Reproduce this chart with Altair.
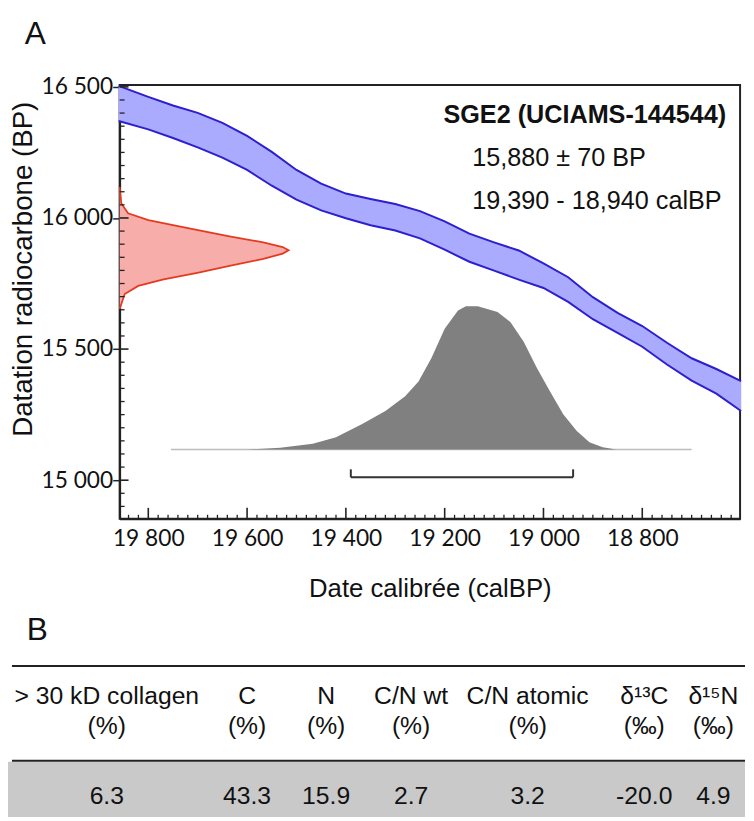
import altair as alt
import pandas as pd

# ---------------- data ----------------
cal_bp = [19860, 19800, 19750, 19700, 19650, 19600, 19550, 19500, 19450, 19400, 19350, 19300, 19250,
          19200, 19150, 19100, 19050, 19000, 18950, 18900, 18850, 18800, 18750, 18700, 18650, 18600]
c14_upper = [16504, 16462, 16429, 16401, 16363, 16313, 16252, 16183, 16131, 16093, 16072, 16053, 16026,
             15987, 15940, 15907, 15876, 15827, 15774, 15698, 15638, 15588, 15524, 15465, 15424, 15378]
c14_lower = [16370, 16338, 16305, 16269, 16230, 16183, 16123, 16070, 16029, 15999, 15972, 15952, 15922,
             15879, 15833, 15799, 15765, 15733, 15680, 15614, 15562, 15509, 15441, 15380, 15330, 15264]

red_c14 = [16118, 16055, 16018, 15992, 15967, 15930, 15907, 15889, 15877, 15864, 15844, 15817, 15791,
           15766, 15741, 15710, 15653]
red_prob = [0, 0.01, 0.05, 0.17, 0.36, 0.65, 0.85, 0.965, 1.0, 0.965, 0.85, 0.65, 0.46, 0.26, 0.11, 0.03, 0]

gray_cal = [19754, 19600, 19533, 19467, 19420, 19367, 19320, 19280, 19253, 19227, 19200, 19173, 19157,
            19133, 19093, 19067, 19040, 19013, 18987, 18960, 18933, 18907, 18880, 18853, 18700]
gray_prob = [0, 0, 0.012, 0.039, 0.084, 0.175, 0.265, 0.367, 0.469, 0.628, 0.832, 0.957, 0.986,
             0.986, 0.946, 0.878, 0.741, 0.56, 0.401, 0.243, 0.129, 0.05, 0.016, 0, 0]

range_cal = [19390, 18940]

x_major = [19800, 19600, 19400, 19200, 19000, 18800]
x_minor = [v for v in range(18620, 19860, 20) if v % 200 != 0]
y_major = [15000, 15500, 16000, 16500]
y_minor = [v for v in range(14900, 16501, 50) if v % 500 != 0]

title_txt = "SGE2 (UCIAMS-144544)"
date_txt = "15,880 ± 70 BP"
cal_txt = "19,390 - 18,940 calBP"

tbl_head1 = ["> 30 kD collagen", "C", "N", "C/N wt", "C/N atomic", "δ¹³C", "δ¹⁵N"]
tbl_head2 = ["(%)", "(%)", "(%)", "(%)", "(%)", "(‰)", "(‰)"]
tbl_vals = ["6.3", "43.3", "15.9", "2.7", "3.2", "-20.0", "4.9"]

# ---------------- layout ----------------
W, H = 628, 439
X_MIN, X_MAX = 18602, 19858
Y_MIN, Y_MAX = 14853, 16507
RED_SPAN = 342
GRAY_BASE = 15117
GRAY_SPAN = 554
col_x = [-13, 129, 209, 295, 413, 531, 601]
row_y = [627, 657, 728]

X_TITLE = "Date calibrée (calBP)"
Y_TITLE = "Datation radiocarbone (BP)"
x_scale = alt.Scale(domain=[X_MIN, X_MAX], reverse=True, nice=False, zero=False)
y_scale = alt.Scale(domain=[Y_MIN, Y_MAX], nice=False, zero=False)
label_expr = "replace(format(datum.value, ',d'), ',', ' ')"
x_axis = alt.Axis(values=x_major, labelExpr=label_expr, ticks=False, tickSize=0, labelFlush=False,
                  labelPadding=9, grid=False, titleY=79, titleBaseline="alphabetic", titleFontSize=26)
y_axis = alt.Axis(values=y_major, labelExpr=label_expr, tickSize=7, labelPadding=0, labelFlush=False,
                  grid=False, titleX=-97, titleY=186, titleAngle=270, titleFontSize=28,
                  titleAlign="center", titleBaseline="middle")


def X(field, **kw):
    return alt.X(field, scale=x_scale, axis=x_axis, title=X_TITLE, **kw)


def Y(field, **kw):
    return alt.Y(field, scale=y_scale, axis=y_axis, title=Y_TITLE, **kw)


band_df = pd.DataFrame({"cal": cal_bp, "up": c14_upper, "lo": c14_lower})
red_df = pd.DataFrame({"c14": red_c14, "p": red_prob, "i": list(range(len(red_c14)))})
gray_df = pd.DataFrame({"cal": gray_cal, "p": gray_prob})
gray_base_df = pd.DataFrame({"a": [gray_cal[0]], "b": [gray_cal[-1]], "z": [GRAY_BASE]})
range_df = pd.DataFrame({"a": [range_cal[0]], "b": [range_cal[1]]})
range_ends = pd.DataFrame({"v": range_cal})

BLUE_LINE = "#2b1fd0"

band = alt.Chart(band_df).mark_area(color="#aaaaff", opacity=1).encode(
    x=X("cal:Q"), y=Y("up:Q"), y2="lo:Q")
up_line = alt.Chart(band_df).mark_line(color=BLUE_LINE, strokeWidth=2).encode(x=X("cal:Q"), y=Y("up:Q"))
lo_line = alt.Chart(band_df).mark_line(color=BLUE_LINE, strokeWidth=2).encode(x=X("cal:Q"), y=Y("lo:Q"))

red_area = alt.Chart(red_df).transform_calculate(
    xc=f"{X_MAX} - datum.p * {RED_SPAN}", x0=f"{X_MAX}"
).mark_area(orient="horizontal", color="#f7aeaa").encode(
    x=X("xc:Q", stack=None), x2="x0:Q", y=Y("c14:Q"))
red_line = alt.Chart(red_df).transform_calculate(
    xc=f"{X_MAX} - datum.p * {RED_SPAN}"
).mark_line(color="#e63a20", strokeWidth=1.8).encode(
    x=X("xc:Q"), y=Y("c14:Q"), order="i:Q")

gray_base = alt.Chart(gray_base_df).mark_rule(color="#bdbdbd", strokeWidth=1.6).encode(
    x=X("a:Q"), x2="b:Q", y=Y("z:Q"))
gray_area = alt.Chart(gray_df).transform_calculate(
    yc=f"{GRAY_BASE} + datum.p * {GRAY_SPAN}", y0=f"{GRAY_BASE}"
).mark_area(color="#808080").encode(
    x=X("cal:Q"), y=Y("yc:Q", stack=None), y2="y0:Q")

ymin_t = alt.Chart(pd.DataFrame({"v": y_minor})).mark_rule(color="#222", strokeWidth=1.3).encode(
    y=Y("v:Q"), x=alt.value(0), x2=alt.value(5))
ymaj_t = alt.Chart(pd.DataFrame({"v": y_major})).mark_rule(color="#222", strokeWidth=1.6).encode(
    y=Y("v:Q"), x=alt.value(0), x2=alt.value(9))
xmin_t = alt.Chart(pd.DataFrame({"v": x_minor})).mark_rule(color="#222", strokeWidth=1.3).encode(
    x=X("v:Q"), y=alt.value(H), y2=alt.value(H - 4))
xmaj_t = alt.Chart(pd.DataFrame({"v": x_major})).mark_rule(color="#222", strokeWidth=1.6).encode(
    x=X("v:Q"), y=alt.value(H), y2=alt.value(H - 11))

bracket = alt.Chart(range_df).mark_rule(color="#333", strokeWidth=2).encode(
    x=X("a:Q"), x2="b:Q", y=alt.value(397))
bracket_ends = alt.Chart(range_ends).mark_rule(color="#333", strokeWidth=2).encode(
    x=X("v:Q"), y=alt.value(389), y2=alt.value(397))


def txt(s, x, y, size, weight="normal", align="left", font="Liberation Sans"):
    return alt.Chart(pd.DataFrame({"t": [s]})).mark_text(
        font=font, fontSize=size, fontWeight=weight, align=align, baseline="alphabetic",
        color="#111").encode(x=alt.value(x), y=alt.value(y), text="t:N")


ann = [
    txt(title_txt, 614, 38, 25.5, weight="bold", align="right"),
    txt(date_txt, 357, 82, 25.5),
    txt(cal_txt, 357, 125, 25.5),
    txt("A", -96, -42, 32),
    txt("B", -94, 562, 32),
]

dummy = pd.DataFrame({"k": [0]})
top_anchor = alt.Chart(dummy).mark_rule(color="white", strokeWidth=1).encode(
    x=alt.value(0), x2=alt.value(2), y=alt.value(-72))
tbl_band = alt.Chart(dummy).mark_rect(color="#c9c9c9").encode(
    x=alt.value(-113), x2=alt.value(W + 5), y=alt.value(685), y2=alt.value(741))
tbl_line1 = alt.Chart(dummy).mark_rule(color="#222", strokeWidth=2).encode(
    x=alt.value(-109), x2=alt.value(W + 5), y=alt.value(588))
tbl_line2 = alt.Chart(dummy).mark_rule(color="#222", strokeWidth=2).encode(
    x=alt.value(-109), x2=alt.value(W + 5), y=alt.value(684))

tbl_text = []
for i in range(len(tbl_head1)):
    for r, rowlist in enumerate([tbl_head1, tbl_head2, tbl_vals]):
        tbl_text.append(txt(rowlist[i], col_x[i], row_y[r], 25, align="center"))

chart = alt.layer(
    band, up_line, lo_line, red_area, red_line, gray_base, gray_area,
    ymin_t, ymaj_t, xmin_t, xmaj_t, bracket, bracket_ends,
    top_anchor, tbl_band, tbl_line1, tbl_line2, *ann, *tbl_text
).properties(
    width=W, height=H,
    padding=0,
    background="white",
).configure_view(
    stroke="#222", strokeWidth=2
).configure_axis(
    labelFont="Lato", labelFontSize=23, labelColor="#111",
    titleFont="Liberation Sans", titleFontWeight="normal", titleColor="#111",
    domainColor="#222", domainWidth=2, tickColor="#222", tickWidth=1.5,
)

chart.save("out.html", embed_options={"renderer": "svg", "actions": False})
